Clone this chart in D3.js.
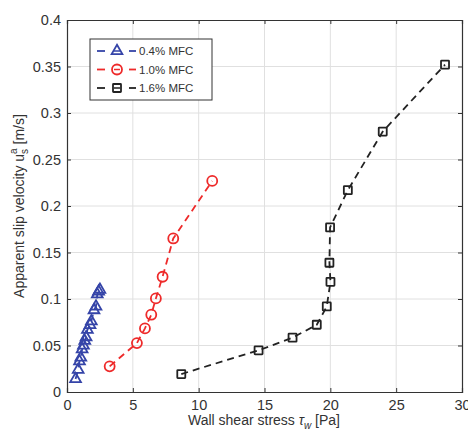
<!DOCTYPE html>
<html><head><meta charset="utf-8">
<script src="https://cdn.jsdelivr.net/npm/d3@7/dist/d3.min.js"></script>
<style>
body{margin:0;background:#fff;}
text{font-family:"Liberation Sans",Arial,sans-serif;}
</style></head>
<body><svg id="c" width="468" height="429"></svg>
<script>
// Data
const blueX = [0.65, 0.85, 0.95, 1.05, 1.15, 1.25, 1.35, 1.45, 1.55, 1.75, 1.85, 2.05, 2.2, 2.3, 2.4, 2.5];
const blueY = [0.014, 0.024, 0.033, 0.037, 0.046, 0.050, 0.055, 0.059, 0.067, 0.072, 0.076, 0.088, 0.092, 0.105, 0.108, 0.110];
const redX = [3.24, 5.31, 5.92, 6.40, 6.75, 7.26, 8.07, 11.03];
const redY = [0.0276, 0.0526, 0.0684, 0.0831, 0.1006, 0.1239, 0.1651, 0.227];
const blackX = [8.68, 14.55, 17.13, 18.97, 19.73, 20.01, 19.93, 19.98, 21.33, 23.98, 28.71];
const blackY = [0.0193, 0.0448, 0.0584, 0.0723, 0.092, 0.1185, 0.139, 0.177, 0.217, 0.280, 0.352];
const xTicks = [0, 5, 10, 15, 20, 25, 30];
const yTicks = [0, 0.05, 0.1, 0.15, 0.2, 0.25, 0.3, 0.35, 0.4];
const seriesNames = ["0.4% MFC", "1.0% MFC", "1.6% MFC"];

const svg = d3.select("#c");
const L = 67, R = 462, T = 20, B = 392;
const x = d3.scaleLinear().domain([0, 30]).range([L, R]);
const y = d3.scaleLinear().domain([0, 0.4]).range([B, T]);

// grid
svg.append("g").selectAll("line.gx").data(xTicks.slice(1, -1)).join("line")
  .attr("x1", d => x(d)).attr("x2", d => x(d)).attr("y1", T).attr("y2", B)
  .attr("stroke", "#e0e0e0").attr("stroke-width", 1);
svg.append("g").selectAll("line.gy").data(yTicks.slice(1, -1)).join("line")
  .attr("y1", d => y(d)).attr("y2", d => y(d)).attr("x1", L).attr("x2", R)
  .attr("stroke", "#e0e0e0").attr("stroke-width", 1);

// axes
const axColor = "#333";
const gx = svg.append("g").attr("transform", `translate(0,${B})`)
  .call(d3.axisBottom(x).tickValues(xTicks).tickSize(-4).tickPadding(8).tickFormat(d3.format("d")));
const gy = svg.append("g").attr("transform", `translate(${L},0)`)
  .call(d3.axisLeft(y).tickValues(yTicks).tickSize(-4).tickPadding(6).tickFormat(d => d === 0 ? "0" : String(d)));
const gxt = svg.append("g").attr("transform", `translate(0,${T})`)
  .call(d3.axisTop(x).tickValues(xTicks).tickSize(-4).tickFormat(""));
const gyr = svg.append("g").attr("transform", `translate(${R},0)`)
  .call(d3.axisRight(y).tickValues(yTicks).tickSize(-4).tickFormat(""));
[gx, gy, gxt, gyr].forEach(g => {
  g.select(".domain").attr("stroke", axColor).attr("stroke-width", 1.2);
  g.selectAll(".tick line").attr("stroke", axColor);
  g.selectAll(".tick text").attr("fill", "#333").style("font-size", "14.5px")
    .style("font-family", '"Liberation Sans",Arial,sans-serif');
});

// series
const series = [
  {name: seriesNames[0], xs: blueX, ys: blueY, color: "#3544a8", shape: "tri"},
  {name: seriesNames[1], xs: redX, ys: redY, color: "#ee2a2a", shape: "circ"},
  {name: seriesNames[2], xs: blackX, ys: blackY, color: "#222222", shape: "sq"}
];
const line = d3.line().x(d => x(d[0])).y(d => y(d[1]));
function marker(g, shape, cx, cy, color) {
  if (shape === "tri") {
    g.append("path").attr("d", d3.symbol(d3.symbolTriangle, 50)())
      .attr("transform", `translate(${cx},${cy})`)
      .attr("fill", "none").attr("stroke", color).attr("stroke-width", 1.8);
  } else if (shape === "circ") {
    g.append("circle").attr("cx", cx).attr("cy", cy).attr("r", 5)
      .attr("fill", "none").attr("stroke", color).attr("stroke-width", 1.8);
  } else {
    g.append("rect").attr("x", cx - 4).attr("y", cy - 4).attr("width", 8).attr("height", 8)
      .attr("fill", "none").attr("stroke", color).attr("stroke-width", 1.8).attr("rx", 0.5);
  }
}
series.forEach(s => {
  const pts = s.xs.map((v, i) => [v, s.ys[i]]);
  svg.append("path").datum(pts).attr("d", line).attr("fill", "none")
    .attr("stroke", s.color).attr("stroke-width", 1.8).attr("stroke-dasharray", "7,5");
  const g = svg.append("g");
  pts.forEach(p => marker(g, s.shape, x(p[0]), y(p[1]), s.color));
});

// legend
const lg = svg.append("g");
lg.append("rect").attr("x", 90).attr("y", 39).attr("width", 122).attr("height", 61)
  .attr("fill", "#fff").attr("stroke", "#333").attr("stroke-width", 1);
series.forEach((s, i) => {
  const ly = 51 + i * 18.5;
  [[97, 105], [129, 136]].forEach(([a, b]) => {
    lg.append("line").attr("x1", a).attr("x2", b).attr("y1", ly).attr("y2", ly)
      .attr("stroke", s.color).attr("stroke-width", 1.8);
  });
  lg.append("line").attr("x1", 114).attr("x2", 120).attr("y1", ly).attr("y2", ly)
    .attr("stroke", s.color).attr("stroke-width", 1.5);
  marker(lg, s.shape, 117, ly, s.color);
  lg.append("text").attr("x", 139).attr("y", ly + 4).attr("fill", "#333")
    .style("font-size", "11.5px").text(s.name);
});

// axis titles
const xt = svg.append("text").attr("x", 264).attr("y", 425).attr("text-anchor", "middle")
  .attr("fill", "#333").style("font-size", "14px");
xt.append("tspan").text("Wall shear stress ");
xt.append("tspan").text("τ").style("font-style", "italic");
xt.append("tspan").text("w").attr("dy", 4).style("font-size", "10px").style("font-style", "italic");
xt.append("tspan").text(" [Pa]").attr("dy", -4);

const yt = svg.append("text").attr("transform", "translate(24,206) rotate(-90)")
  .attr("text-anchor", "middle").attr("fill", "#333").style("font-size", "14px");
yt.append("tspan").text("Apparent slip velocity u");
yt.append("tspan").text("s").attr("dy", 4).style("font-size", "10px");
yt.append("tspan").text("a").attr("dx", -5).attr("dy", -11).style("font-size", "10px");
yt.append("tspan").text(" [m/s]").attr("dy", 7);
</script></body></html>
